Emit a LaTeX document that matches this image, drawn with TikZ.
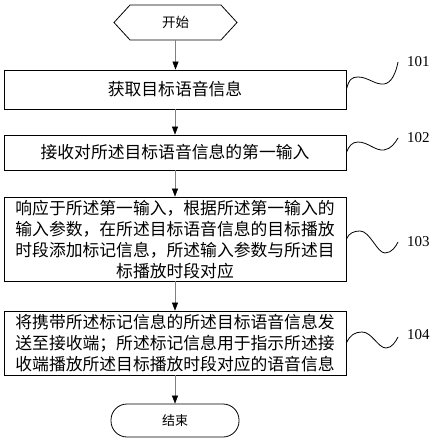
\documentclass[tikz,border=0pt]{standalone}
\usepackage{fontspec}
\setmainfont{Liberation Serif}
\newfontfamily\cjk{Noto Sans CJK SC}
\usetikzlibrary{shapes,arrows.meta,positioning,calc}

\begin{document}
\begin{tikzpicture}[x=1pt,y=-1pt,
    stepbox/.style={draw,line width=0.8pt,minimum width=342pt,inner sep=0pt,
      font=\cjk\fontsize{16.8}{21}\selectfont},
    flow/.style={draw=gray,line width=0.6pt,-{Triangle[length=8pt,width=6pt,color=black]}},
    wave/.style={line width=0.8pt},
    tag/.style={font=\fontsize{15}{18}\selectfont,inner sep=0pt,anchor=west}]
    \useasboundingbox (0,0) rectangle (433,443);

    % Terminals
    \node[draw,signal,signal to=west and east,signal pointer angle=95,
      minimum width=123pt,minimum height=35pt,inner sep=0pt,line width=0.8pt,
      font=\cjk\fontsize{13.5}{15}\selectfont] (start) at (175.5,22.5) {开始};
    \node[draw,rounded corners=16pt,minimum width=128pt,minimum height=33pt,
      inner sep=0pt,line width=0.8pt,
      font=\cjk\fontsize{13}{15}\selectfont] (stop) at (175,420.5) {结束};

    % Steps
    \node[stepbox,minimum height=39pt] (s101) at (175,89.5) {获取目标语音信息};
    \node[stepbox,minimum height=35pt] (s102) at (175,152.5) {接收对所述目标语音信息的第一输入};
    \node[stepbox,minimum height=84pt] (s103) at (175,239)
      {\raisebox{-3pt}[\height][\depth]{\begin{tabular}{@{}c@{}}响应于所述第一输入，根据所述第一输入的\\输入参数，在所述目标语音信息的目标播放\\时段添加标记信息，所述输入参数与所述目\\标播放时段对应\end{tabular}}};
    \node[stepbox,minimum height=64pt] (s104) at (175,343)
      {\raisebox{-2pt}[\height][\depth]{\begin{tabular}{@{}c@{}}将携带所述标记信息的所述目标语音信息发\\送至接收端；所述标记信息用于指示所述接\\收端播放所述目标播放时段对应的语音信息\end{tabular}}};

    % Flow
    \draw[flow] (start.south) -- (start.south |- s101.north);
    \draw[flow] (s101) -- (s102);
    \draw[flow] (s102) -- (s103);
    \draw[flow] (s103) -- (s104);
    \draw[flow] (s104) -- (stop);

    % Reference numbers
    \coordinate (w101) at (398,62);
    \coordinate (w102) at (398,138);
    \coordinate (w103) at (398,242);
    \coordinate (w104) at (398,337);
    \node[tag] (n101) at (407,62) {101};
    \node[tag] (n102) at (407,138) {102};
    \node[tag] (n103) at (407,242) {103};
    \node[tag] (n104) at (407,335) {104};
    \draw[wave] (s101.east) .. controls (349,79) and (352,77) .. (358,77)
      .. controls (368,77) and (375,85) .. (384,84)
      .. controls (392,83) and (396,72) .. (w101);
    \draw[wave] (s102.east) .. controls (349,146) and (352,142) .. (358,142)
      .. controls (368,142) and (375,151) .. (384,150)
      .. controls (391,149) and (395,143) .. (w102);
    \draw[wave] (s103.east) .. controls (349,233) and (354,231) .. (360,231)
      .. controls (370,231) and (377,253) .. (385,253)
      .. controls (392,253) and (396,246) .. (w103);
    \draw[wave] (s104.east) .. controls (350,335) and (355,332) .. (362,332)
      .. controls (372,332) and (378,348) .. (386,348)
      .. controls (392,348) and (396,341) .. (w104);
\end{tikzpicture}
\end{document}
